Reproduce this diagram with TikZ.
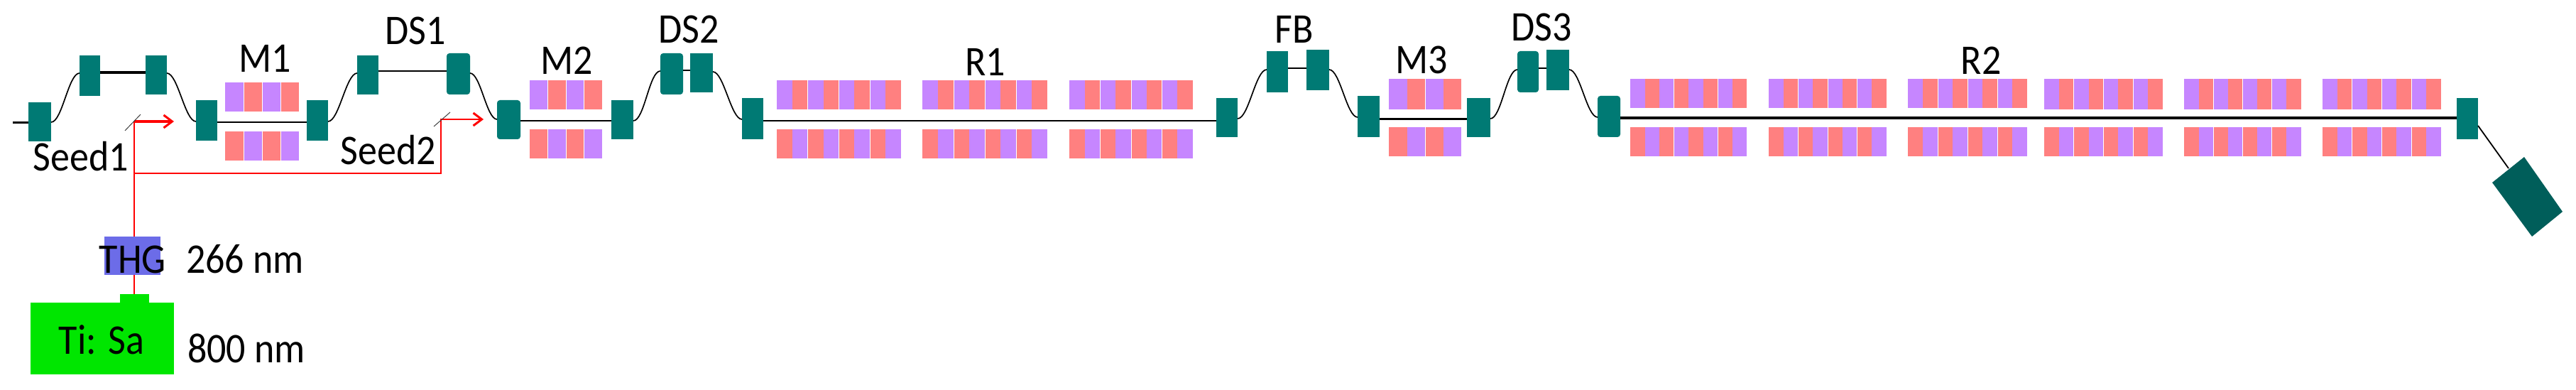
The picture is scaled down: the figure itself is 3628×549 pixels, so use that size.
\documentclass[tikz,border=0pt]{standalone}
\usepackage{fontspec}
\setmainfont{Carlito}
\usetikzlibrary{arrows.meta}
\definecolor{magteal}{HTML}{007A74}
\definecolor{dumpteal}{HTML}{005E5A}
\definecolor{undpurple}{HTML}{C686FF}
\definecolor{undred}{HTML}{FF8080}
\definecolor{thgblue}{HTML}{6C6CE8}
\definecolor{tisagreen}{HTML}{00E600}
\definecolor{laserred}{HTML}{FF0000}
\tikzset{
  magbox/.style={fill=magteal,inner sep=0pt,outer sep=0pt,rectangle},
  maground/.style={magbox,rounded corners=2pt},
  lab/.style={anchor=base,inner sep=0pt,font=\fontsize{27}{27}\selectfont,yscale=1.1,transform shape},
  beam/.style={draw=black,line width=1.2pt},
  thinbeam/.style={draw=black,line width=0.9pt},
  sbend/.style={draw=black,line width=0.85pt,out=0,in=180,looseness=0.5},
  laser/.style={draw=laserred,line width=1.4pt},
  laserarrow/.style={laser,-{Straight Barb[length=6pt,width=9pt,line width=1.5pt]}},
  mirror/.style={draw=black!75,line width=0.5pt},
}
% name, x1, y1, x2, y2, style
\newcommand\magnet[6]{\node[#6,minimum width={(#4-#2)*0.5pt},minimum height={(#5-#3)*0.5pt}] (#1) at ({(#2+#4)/2},{(#3+#5)/2}) {};}
% x1,x2,y1,y2,first colour,second colour,stripes,separator step
\newcommand\undstripes[8]{%
  \foreach \ii in {1,...,#7}{%
    \pgfmathsetmacro\xa{#1+(\ii-1)*(#2-#1)/#7}%
    \pgfmathsetmacro\xb{#1+\ii*(#2-#1)/#7}%
    \ifodd\ii\relax\fill[#5] (\xa,#3) rectangle (\xb,#4);\else\fill[#6] (\xa,#3) rectangle (\xb,#4);\fi
  }%
  \foreach \ii in {1,...,#7}{%
    \pgfmathtruncatemacro\rr{mod(\ii,#8)}%
    \ifnum\rr=0 \ifnum\ii<#7 \pgfmathsetmacro\xb{#1+\ii*(#2-#1)/#7}\draw[white,line width=0.5pt] (\xb,#3) -- (\xb,#4);\fi\fi
  }%
}
\newcommand\undpair[8]{\undstripes{#1}{#2}{#3}{#4}{undpurple}{undred}{#7}{#8}\undstripes{#1}{#2}{#5}{#6}{undred}{undpurple}{#7}{#8}}
\begin{document}
\begin{tikzpicture}[x=0.5pt,y=-0.5pt]
\useasboundingbox (0,0) rectangle (3628,549);
\fill[white] (0,0) rectangle (3628,549);

% undulators
\undpair{317}{421}{116}{157}{185}{226}{4}{1}
\undpair{746}{848}{113}{154}{182}{223}{4}{1}
\undpair{1094}{1269}{113}{154}{182}{223}{8}{2}
\undpair{1299}{1475}{113}{154}{182}{223}{8}{2}
\undpair{1506}{1680}{113}{154}{182}{223}{8}{2}
\undpair{1956}{2058}{111}{154}{179}{220}{4}{2}
\undpair{2296}{2460}{111}{152}{179}{220}{8}{3}
\undpair{2491}{2657}{111}{152}{179}{220}{8}{2}
\undpair{2687}{2855}{111}{152}{179}{220}{8}{2}
\undpair{2879}{3046}{111}{154}{179}{220}{8}{2}
\undpair{3076}{3241}{111}{154}{179}{220}{8}{2}
\undpair{3271}{3438}{111}{154}{179}{220}{8}{2}

% magnets
\magnet{d1}{40}{144}{72}{199}{magbox}
\magnet{d2}{112}{78}{141}{135}{magbox}
\magnet{d3}{205}{78}{235}{133}{magbox}
\magnet{d4}{276}{141}{306}{198}{magbox}
\magnet{d5}{432}{141}{462}{198}{magbox}
\magnet{d6}{503}{78}{533}{133}{magbox}
\magnet{d7}{629}{75}{662}{133}{maground}
\magnet{d8}{700}{141}{733}{196}{maground}
\magnet{d9}{861}{141}{892}{196}{magbox}
\magnet{d10}{930}{75}{962}{133}{maground}
\magnet{d11}{972}{75}{1004}{130}{magbox}
\magnet{d12}{1045}{138}{1075}{196}{magbox}
\magnet{d13}{1713}{138}{1743}{193}{magbox}
\magnet{d14}{1784}{72}{1814}{130}{magbox}
\magnet{d15}{1840}{70}{1872}{127}{magbox}
\magnet{d16}{1912}{135}{1943}{193}{magbox}
\magnet{d17}{2066}{138}{2099}{193}{magbox}
\magnet{d18}{2137}{72}{2167}{130}{maground}
\magnet{d19}{2178}{70}{2210}{127}{magbox}
\magnet{d20}{2250}{135}{2282}{193}{maground}
\magnet{d21}{3460}{138}{3490}{196}{magbox}
\coordinate (beamstart) at (18,173);
\fill[dumpteal] (3555,221) -- (3609,298) -- (3566,333) -- (3510,257) -- cycle;
\coordinate (dumpin) at (3533,237);

% beam line
\draw[beam,line width=1.5pt] (beamstart) -- (d1.west |- beamstart);
\draw[sbend] (d1.east |- 0,172) to (d2.west |- 0,103);
\draw[beam,line width=2pt] (d2.east |- 0,102) -- (d3.west |- 0,102);
\draw[sbend] (d3.east |- 0,103) to (d4.west |- 0,171);
\draw[thinbeam] (d4.east |- 0,172) -- (d5.west |- 0,172);
\draw[sbend] (d5.east |- 0,171) to (d6.west |- 0,103);
\draw[thinbeam] (d6.east |- 0,100) -- (d7.west |- 0,100);
\draw[sbend] (d7.east |- 0,103) to (d8.west |- 0,168);
\draw[thinbeam] (d8.east |- 0,170) -- (d9.west |- 0,170);
\draw[sbend] (d9.east |- 0,170) to (d10.west |- 0,100);
\draw[beam] (d10.east |- 0,99) -- (d11.west |- 0,99);
\draw[sbend] (d11.east |- 0,101) to (d12.west |- 0,168);
\draw[beam] (d12.east |- 0,170) -- (d13.west |- 0,170);
\draw[sbend] (d13.east |- 0,167) to (d14.west |- 0,98);
\draw[beam] (d14.east |- 0,96) -- (d15.west |- 0,96);
\draw[sbend] (d15.east |- 0,98) to (d16.west |- 0,165);
\draw[beam,line width=1.5pt] (d16.east |- 0,168) -- (d17.west |- 0,168);
\draw[sbend] (d17.east |- 0,167) to (d18.west |- 0,98);
\draw[beam] (d18.east |- 0,96) -- (d19.west |- 0,96);
\draw[sbend] (d19.east |- 0,98) to (d20.west |- 0,165);
\draw[beam,line width=1.8pt] (d20.east |- 0,166) -- (d21.west |- 0,166);
\draw[thinbeam] (d21.east |- 0,177) -- (dumpin);

% laser
\node[fill=thgblue,inner sep=0pt,minimum width=39.5pt,minimum height=27pt] (thg) at (186.5,360) {};
\node[fill=tisagreen,inner sep=0pt,minimum width=101pt,minimum height=50.5pt] (tisa) at (144,476.5) {};
\node[fill=tisagreen,inner sep=0pt,minimum width=20.5pt,minimum height=6pt] (tab) at (189.5,420.5) {};
\coordinate (seedA) at (189,171);
\coordinate (seedAend) at (245,171);
\coordinate (branch) at (189,244);
\coordinate (corner) at (621,244);
\coordinate (seedB) at (621,168);
\coordinate (seedBend) at (681,168);
\coordinate (mirA1) at (198,161);
\coordinate (mirA2) at (176,184);
\coordinate (mirB1) at (634,158);
\coordinate (mirB2) at (611,178);
\draw[laser] (tab.north -| seedA) -- (thg.south -| seedA);
\draw[laser] (thg.north -| seedA) -- (seedA);
\draw[laserarrow,line width=2.2pt] (seedA) -- (seedAend);
\draw[laserarrow] (branch) -- (corner) -- (seedB) -- (seedBend);
\draw[mirror] (mirA1) -- (mirA2);
\draw[mirror] (mirB1) -- (mirB2);

% labels
\node[lab] (lM1) at (373,102) {M1};
\node[lab] (lDS1) at (585,63) {DS1};
\node[lab] (lM2) at (798,105) {M2};
\node[lab] (lDS2) at (970,61) {DS2};
\node[lab] (lR1) at (1388,107) {R1};
\node[lab] (lFB) at (1823,61) {FB};
\node[lab] (lM3) at (2002,104) {M3};
\node[lab] (lDS3) at (2171,58) {DS3};
\node[lab] (lR2) at (2790,105) {R2};
\node[lab] (lSeedA) at (114,241) {Seed1};
\node[lab] (lSeedB) at (547,232) {Seed2};
\node[lab] (lTHG) at (187,385) {THG};
\node[lab] (l266) at (345,385) {266 nm};
\node[lab] (lTi) at (143,499) {Ti: Sa};
\node[lab] (l800) at (347,511) {800 nm};
\end{tikzpicture}
\end{document}
